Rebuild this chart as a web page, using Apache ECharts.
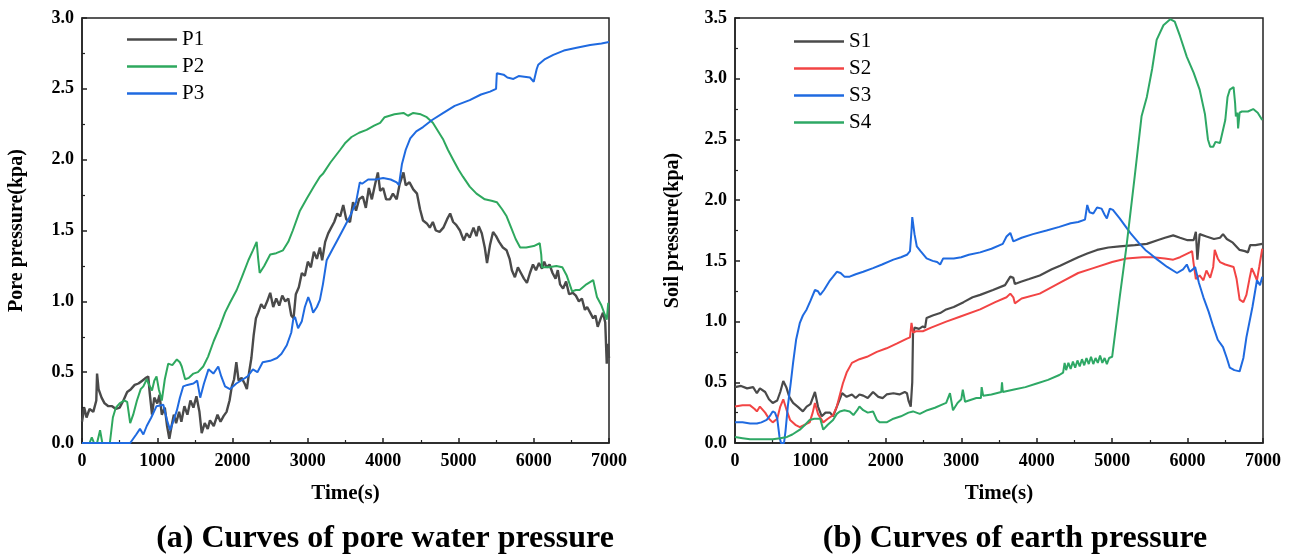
<!DOCTYPE html>
<html>
<head>
<meta charset="utf-8">
<script src="https://cdn.jsdelivr.net/npm/echarts@6/dist/echarts.min.js"></script>
<style>
  html, body { margin: 0; padding: 0; background: #fff; }
  #chart { width: 1295px; height: 554px; }
</style>
</head>
<body>
<div id="chart"></div>
<script>
// time (s), pressure (kpa)
const p1 = [[0,0.15],[30,0.25],[60,0.18],[100,0.24],[150,0.22],[190,0.3],[200,0.49],[220,0.38],[260,0.32],[300,0.28],[350,0.26],[400,0.26],[450,0.24],[500,0.25],[550,0.3],[600,0.36],[650,0.38],[700,0.41],[750,0.42],[800,0.44],[850,0.46],[880,0.47],[900,0.35],[930,0.2],[960,0.32],[1000,0.28],[1030,0.34],[1060,0.2],[1100,0.25],[1130,0.12],[1160,0.03],[1190,0.12],[1220,0.2],[1250,0.14],[1290,0.22],[1320,0.15],[1360,0.26],[1400,0.2],[1440,0.3],[1480,0.25],[1520,0.33],[1560,0.22],[1590,0.07],[1630,0.14],[1670,0.1],[1700,0.16],[1750,0.12],[1800,0.2],[1840,0.15],[1880,0.19],[1920,0.22],[1960,0.3],[1990,0.4],[2020,0.45],[2050,0.57],[2080,0.44],[2120,0.46],[2160,0.42],[2190,0.38],[2220,0.5],[2250,0.6],[2280,0.76],[2310,0.88],[2340,0.92],[2380,0.98],[2420,0.95],[2460,1.0],[2500,1.06],[2540,0.96],[2580,1.02],[2620,0.97],[2660,1.04],[2700,1.0],[2740,1.02],[2780,0.9],[2810,0.88],[2840,1.05],[2880,1.1],[2920,1.2],[2960,1.18],[3000,1.28],[3040,1.24],[3080,1.35],[3120,1.3],[3160,1.38],[3190,1.29],[3230,1.42],[3270,1.48],[3310,1.52],[3350,1.56],[3390,1.62],[3430,1.6],[3470,1.68],[3510,1.58],[3560,1.56],[3600,1.7],[3640,1.64],[3680,1.72],[3730,1.74],[3770,1.66],[3810,1.8],[3850,1.72],[3890,1.82],[3930,1.91],[3960,1.78],[4000,1.8],[4040,1.72],[4090,1.72],[4130,1.76],[4180,1.72],[4220,1.83],[4270,1.91],[4300,1.82],[4350,1.84],[4400,1.79],[4450,1.76],[4490,1.65],[4530,1.57],[4580,1.55],[4620,1.52],[4660,1.56],[4700,1.5],[4750,1.49],[4800,1.52],[4850,1.58],[4890,1.62],[4930,1.56],[4970,1.54],[5020,1.5],[5070,1.43],[5110,1.48],[5150,1.45],[5200,1.52],[5240,1.46],[5270,1.53],[5310,1.48],[5350,1.38],[5380,1.27],[5420,1.4],[5460,1.49],[5500,1.46],[5540,1.42],[5590,1.38],[5640,1.36],[5680,1.3],[5710,1.22],[5750,1.17],[5790,1.24],[5830,1.2],[5870,1.16],[5910,1.13],[5950,1.2],[5990,1.26],[6030,1.22],[6070,1.27],[6110,1.23],[6140,1.28],[6170,1.24],[6210,1.26],[6250,1.2],[6290,1.16],[6320,1.22],[6350,1.12],[6390,1.09],[6430,1.14],[6470,1.05],[6520,1.06],[6560,1.04],[6600,1.0],[6640,1.02],[6680,0.94],[6710,0.96],[6750,0.92],[6790,0.88],[6820,0.9],[6850,0.82],[6890,0.88],[6920,0.92],[6950,0.85],[6970,0.56],[6985,0.7],[7000,0.6]];
const p2 = [[0,0],[100,0],[130,0.04],[160,0],[200,0],[240,0.09],[270,0],[370,0],[410,0.18],[450,0.25],[500,0.28],[560,0.3],[600,0.29],[640,0.14],[680,0.2],[730,0.3],[780,0.38],[815,0.4],[860,0.45],[900,0.4],[930,0.37],[960,0.44],[990,0.47],[1020,0.38],[1060,0.3],[1100,0.45],[1145,0.56],[1200,0.55],[1260,0.59],[1300,0.57],[1325,0.54],[1370,0.45],[1420,0.46],[1480,0.49],[1540,0.5],[1610,0.54],[1675,0.61],[1750,0.72],[1830,0.82],[1900,0.92],[1965,0.99],[2055,1.08],[2130,1.18],[2210,1.29],[2270,1.36],[2320,1.42],[2340,1.3],[2360,1.2],[2420,1.25],[2500,1.33],[2580,1.34],[2670,1.36],[2740,1.42],[2800,1.5],[2895,1.64],[2990,1.73],[3080,1.81],[3160,1.88],[3200,1.9],[3300,1.98],[3430,2.07],[3500,2.12],[3580,2.16],[3680,2.19],[3780,2.21],[3880,2.24],[3960,2.26],[4020,2.3],[4150,2.32],[4270,2.33],[4330,2.31],[4400,2.33],[4500,2.32],[4580,2.3],[4660,2.26],[4730,2.2],[4800,2.14],[4860,2.07],[4930,2.0],[5000,1.93],[5060,1.88],[5150,1.81],[5240,1.76],[5350,1.72],[5440,1.71],[5510,1.7],[5580,1.65],[5640,1.6],[5700,1.52],[5760,1.44],[5820,1.38],[5900,1.38],[6000,1.39],[6080,1.41],[6100,1.33],[6110,1.24],[6200,1.24],[6300,1.25],[6380,1.24],[6440,1.18],[6510,1.07],[6560,1.08],[6610,1.08],[6700,1.12],[6790,1.15],[6840,1.03],[6900,0.97],[6970,0.87],[6990,0.99]];
const p3 = [[0,0],[300,0],[500,0],[640,0],[680,0.03],[720,0.06],[770,0.1],[815,0.06],[860,0.12],[920,0.18],[990,0.26],[1080,0.27],[1130,0.16],[1170,0.09],[1210,0.15],[1260,0.23],[1300,0.32],[1345,0.4],[1400,0.41],[1480,0.42],[1530,0.44],[1570,0.32],[1620,0.42],[1680,0.52],[1745,0.49],[1810,0.54],[1850,0.47],[1900,0.4],[1965,0.38],[2050,0.42],[2140,0.45],[2200,0.47],[2270,0.52],[2330,0.5],[2400,0.57],[2500,0.58],[2590,0.6],[2650,0.63],[2720,0.69],[2780,0.78],[2805,0.87],[2830,0.89],[2870,0.81],[2920,0.86],[2960,0.96],[3005,1.03],[3040,0.98],[3070,0.92],[3120,0.96],[3160,1.01],[3200,1.12],[3250,1.29],[3320,1.36],[3390,1.43],[3480,1.52],[3560,1.6],[3640,1.7],[3690,1.84],[3720,1.83],[3800,1.86],[3900,1.86],[4000,1.87],[4100,1.86],[4180,1.84],[4210,1.82],[4250,1.97],[4300,2.07],[4360,2.15],[4440,2.2],[4530,2.23],[4650,2.28],[4800,2.33],[4950,2.38],[5150,2.42],[5300,2.46],[5420,2.48],[5500,2.5],[5510,2.61],[5600,2.6],[5650,2.58],[5730,2.57],[5800,2.59],[5950,2.58],[6000,2.55],[6020,2.55],[6040,2.64],[6060,2.67],[6150,2.71],[6260,2.74],[6400,2.77],[6570,2.79],[6750,2.81],[6900,2.82],[7000,2.83]];

const s1 = [[0,0.46],[80,0.47],[160,0.45],[240,0.46],[290,0.41],[330,0.45],[400,0.42],[450,0.36],[500,0.33],[560,0.35],[600,0.42],[640,0.51],[680,0.46],[720,0.38],[770,0.33],[830,0.3],[900,0.26],[950,0.3],[1000,0.32],[1060,0.42],[1100,0.3],[1150,0.22],[1200,0.25],[1260,0.25],[1300,0.22],[1350,0.3],[1420,0.41],[1480,0.38],[1550,0.4],[1600,0.37],[1650,0.4],[1700,0.39],[1760,0.37],[1830,0.42],[1900,0.38],[1960,0.37],[2010,0.4],[2100,0.41],[2180,0.4],[2250,0.42],[2280,0.41],[2300,0.35],[2330,0.3],[2350,0.5],[2360,0.9],[2380,0.95],[2440,0.94],[2490,0.96],[2520,0.95],[2540,1.03],[2620,1.05],[2720,1.07],[2800,1.1],[2900,1.12],[3030,1.16],[3150,1.2],[3250,1.22],[3420,1.26],[3580,1.3],[3650,1.37],[3690,1.36],[3710,1.31],[3800,1.33],[3900,1.35],[4040,1.38],[4200,1.43],[4310,1.46],[4450,1.5],[4550,1.53],[4670,1.56],[4800,1.59],[4950,1.61],[5100,1.62],[5300,1.63],[5460,1.64],[5600,1.67],[5700,1.69],[5810,1.71],[5900,1.69],[6000,1.67],[6080,1.67],[6110,1.74],[6130,1.51],[6150,1.5],[6160,1.72],[6250,1.7],[6350,1.68],[6430,1.69],[6470,1.72],[6520,1.68],[6600,1.65],[6690,1.59],[6760,1.58],[6800,1.57],[6830,1.63],[6900,1.63],[6990,1.64]];
const s2 = [[0,0.3],[100,0.31],[200,0.31],[260,0.28],[290,0.26],[330,0.3],[400,0.25],[450,0.2],[500,0.17],[560,0.2],[600,0.3],[640,0.36],[690,0.26],[730,0.19],[800,0.15],[860,0.13],[920,0.15],[990,0.17],[1030,0.25],[1060,0.33],[1100,0.24],[1170,0.17],[1230,0.2],[1300,0.23],[1350,0.3],[1400,0.42],[1430,0.49],[1480,0.58],[1550,0.66],[1650,0.69],[1750,0.71],[1880,0.75],[2010,0.78],[2150,0.82],[2280,0.86],[2320,0.87],[2340,0.99],[2360,0.91],[2400,0.92],[2490,0.92],[2600,0.95],[2800,1.0],[2980,1.04],[3250,1.1],[3450,1.16],[3600,1.2],[3650,1.23],[3690,1.2],[3710,1.15],[3800,1.19],[4040,1.23],[4310,1.32],[4550,1.4],[4750,1.44],[5000,1.49],[5190,1.52],[5400,1.53],[5540,1.53],[5700,1.52],[5810,1.51],[5900,1.53],[6030,1.57],[6060,1.58],[6080,1.48],[6110,1.35],[6160,1.38],[6210,1.34],[6250,1.42],[6300,1.36],[6340,1.45],[6360,1.59],[6400,1.52],[6430,1.49],[6500,1.47],[6610,1.45],[6650,1.35],[6690,1.18],[6740,1.16],[6780,1.22],[6820,1.35],[6850,1.44],[6880,1.4],[6920,1.34],[6950,1.45],[6990,1.6]];
const s3 = [[0,0.17],[100,0.17],[200,0.16],[290,0.16],[350,0.17],[420,0.19],[470,0.23],[500,0.26],[530,0.25],[560,0.2],[590,0.05],[610,0],[650,0],[670,0.1],[700,0.3],[740,0.5],[770,0.66],[810,0.85],[860,0.99],[900,1.05],[950,1.1],[1000,1.17],[1060,1.26],[1100,1.25],[1130,1.22],[1180,1.26],[1260,1.34],[1300,1.37],[1350,1.41],[1400,1.4],[1450,1.37],[1520,1.37],[1600,1.39],[1700,1.41],[1830,1.44],[1950,1.47],[2100,1.51],[2200,1.53],[2280,1.55],[2320,1.58],[2340,1.75],[2350,1.86],[2380,1.72],[2410,1.62],[2460,1.58],[2540,1.52],[2620,1.5],[2680,1.49],[2720,1.47],[2760,1.52],[2800,1.52],[2900,1.52],[3000,1.53],[3100,1.55],[3250,1.57],[3400,1.6],[3550,1.64],[3600,1.7],[3650,1.73],[3690,1.66],[3710,1.65],[3800,1.69],[3950,1.72],[4130,1.75],[4300,1.78],[4450,1.81],[4550,1.82],[4640,1.84],[4670,1.96],[4700,1.9],[4750,1.89],[4800,1.94],[4860,1.93],[4900,1.88],[4930,1.85],[4970,1.93],[5010,1.92],[5100,1.85],[5240,1.73],[5350,1.65],[5440,1.59],[5500,1.56],[5600,1.51],[5730,1.45],[5860,1.4],[5940,1.43],[5990,1.47],[6030,1.41],[6070,1.43],[6100,1.45],[6150,1.32],[6210,1.2],[6280,1.08],[6340,0.96],[6400,0.85],[6470,0.79],[6520,0.7],[6560,0.62],[6620,0.6],[6690,0.59],[6740,0.7],[6780,0.87],[6860,1.12],[6920,1.34],[6960,1.3],[6990,1.37]];
const s4 = [[0,0.05],[100,0.04],[200,0.03],[350,0.03],[500,0.03],[600,0.04],[690,0.05],[760,0.07],[860,0.11],[930,0.15],[990,0.19],[1050,0.2],[1130,0.2],[1170,0.11],[1230,0.15],[1300,0.19],[1350,0.24],[1390,0.26],[1450,0.27],[1520,0.26],[1570,0.23],[1620,0.27],[1650,0.3],[1700,0.27],[1760,0.25],[1830,0.26],[1880,0.19],[1920,0.17],[2010,0.17],[2100,0.2],[2200,0.22],[2300,0.25],[2360,0.26],[2450,0.24],[2550,0.27],[2650,0.29],[2760,0.32],[2800,0.33],[2850,0.41],[2890,0.27],[2950,0.33],[3000,0.36],[3020,0.44],[3050,0.34],[3100,0.35],[3200,0.37],[3260,0.37],[3270,0.46],[3290,0.39],[3400,0.4],[3530,0.42],[3540,0.5],[3550,0.42],[3700,0.44],[3850,0.46],[4000,0.49],[4150,0.52],[4300,0.56],[4350,0.58],[4370,0.66],[4390,0.6],[4420,0.66],[4450,0.61],[4480,0.67],[4510,0.62],[4540,0.68],[4570,0.63],[4600,0.69],[4630,0.64],[4660,0.7],[4690,0.65],[4720,0.71],[4750,0.65],[4780,0.7],[4810,0.66],[4840,0.72],[4870,0.66],[4900,0.7],[4930,0.65],[4960,0.7],[5000,0.71],[5100,1.2],[5190,1.62],[5300,2.2],[5390,2.69],[5460,2.85],[5530,3.08],[5590,3.32],[5680,3.44],[5770,3.49],[5830,3.47],[5900,3.35],[5990,3.18],[6080,3.05],[6160,2.91],[6230,2.71],[6270,2.5],[6300,2.44],[6340,2.44],[6370,2.48],[6430,2.47],[6500,2.66],[6530,2.85],[6560,2.91],[6610,2.93],[6630,2.8],[6640,2.69],[6660,2.72],[6670,2.59],[6690,2.72],[6720,2.73],[6800,2.73],[6870,2.75],[6930,2.72],[6990,2.66]];

const leftNames = ['P1', 'P2', 'P3'];
const rightNames = ['S1', 'S2', 'S3', 'S4'];

const chart = echarts.init(document.getElementById('chart'));

const font = '"Liberation Serif", "Times New Roman", serif';
const axisColor = '#222';

function xAxisFor(grid) {
  return {
    gridIndex: grid,
    type: 'value',
    min: 0,
    max: 7000,
    interval: 1000,
    name: 'Time(s)',
    nameLocation: 'middle',
    nameGap: 40,
    nameTextStyle: { fontFamily: font, fontWeight: 'bold', fontSize: 21, color: '#000' },
    axisLine: { show: true, onZero: false, lineStyle: { color: axisColor, width: 1.5 } },
    axisTick: { show: true, inside: true, length: 5, lineStyle: { color: axisColor, width: 1.5 } },
    minorTick: { show: true, splitNumber: 2, length: 3, lineStyle: { color: axisColor, width: 1.2 } },
    splitLine: { show: false },
    axisLabel: {
      fontFamily: font, fontWeight: 'bold', fontSize: 18, color: '#000', margin: 9,
      formatter: v => String(v)
    }
  };
}

function yAxisFor(grid, max, name, gap) {
  return {
    gridIndex: grid,
    type: 'value',
    min: 0,
    max: max,
    interval: 0.5,
    name: name,
    nameLocation: 'middle',
    nameGap: gap,
    nameTextStyle: { fontFamily: font, fontWeight: 'bold', fontSize: 20, color: '#000' },
    axisLine: { show: true, onZero: false, lineStyle: { color: axisColor, width: 1.5 } },
    axisTick: { show: true, inside: true, length: 5, lineStyle: { color: axisColor, width: 1.5 } },
    minorTick: { show: true, splitNumber: 2, length: 3, lineStyle: { color: axisColor, width: 1.2 } },
    splitLine: { show: false },
    axisLabel: {
      fontFamily: font, fontWeight: 'bold', fontSize: 18, color: '#000', margin: 8,
      formatter: v => v.toFixed(1)
    }
  };
}

function line(name, data, color, axis, width = 1.8) {
  return {
    name,
    type: 'line',
    data,
    xAxisIndex: axis,
    yAxisIndex: axis,
    symbol: 'none',
    lineStyle: { color, width },
    itemStyle: { color },
    z: 3
  };
}

const legendBase = {
  orient: 'vertical',
  icon: 'rect',
  itemWidth: 50,
  itemHeight: 2.5,
  itemGap: 6,
  textStyle: { fontFamily: font, fontSize: 21, lineHeight: 21, color: '#000' },
  selectedMode: false
};

chart.setOption({
  animation: false,
  backgroundColor: '#fff',
  grid: [
    { left: 82, top: 18, width: 527, height: 425, show: true, borderColor: axisColor, borderWidth: 1.5 },
    { left: 735, top: 18, width: 528, height: 425, show: true, borderColor: axisColor, borderWidth: 1.5 }
  ],
  xAxis: [xAxisFor(0), xAxisFor(1)],
  yAxis: [
    yAxisFor(0, 3, 'Pore pressure(kpa)', 55),
    yAxisFor(1, 3.5, 'Soil pressure(kpa)', 52)
  ],
  legend: [
    Object.assign({}, legendBase, { data: leftNames, left: 122, top: 24 }),
    Object.assign({}, legendBase, { data: rightNames, left: 789, top: 26 })
  ],
  title: [
    {
      text: '(a) Curves of pore water pressure',
      left: 380, top: 518, textAlign: 'center',
      textStyle: { fontFamily: font, fontWeight: 'bold', fontSize: 32, color: '#000' }
    },
    {
      text: '(b) Curves of earth pressure',
      left: 1010, top: 518, textAlign: 'center',
      textStyle: { fontFamily: font, fontWeight: 'bold', fontSize: 32, color: '#000' }
    }
  ],
  series: [
    line('P1', p1, '#4a4a4a', 0, 2.4),
    line('P2', p2, '#2ea85e', 0, 2),
    line('P3', p3, '#1f6ae0', 0, 2),
    line('S1', s1, '#4a4a4a', 1, 2.2),
    line('S2', s2, '#f24444', 1, 2),
    line('S3', s3, '#1f6ae0', 1, 2),
    line('S4', s4, '#2ea865', 1, 2)
  ]
});
</script>
</body>
</html>
